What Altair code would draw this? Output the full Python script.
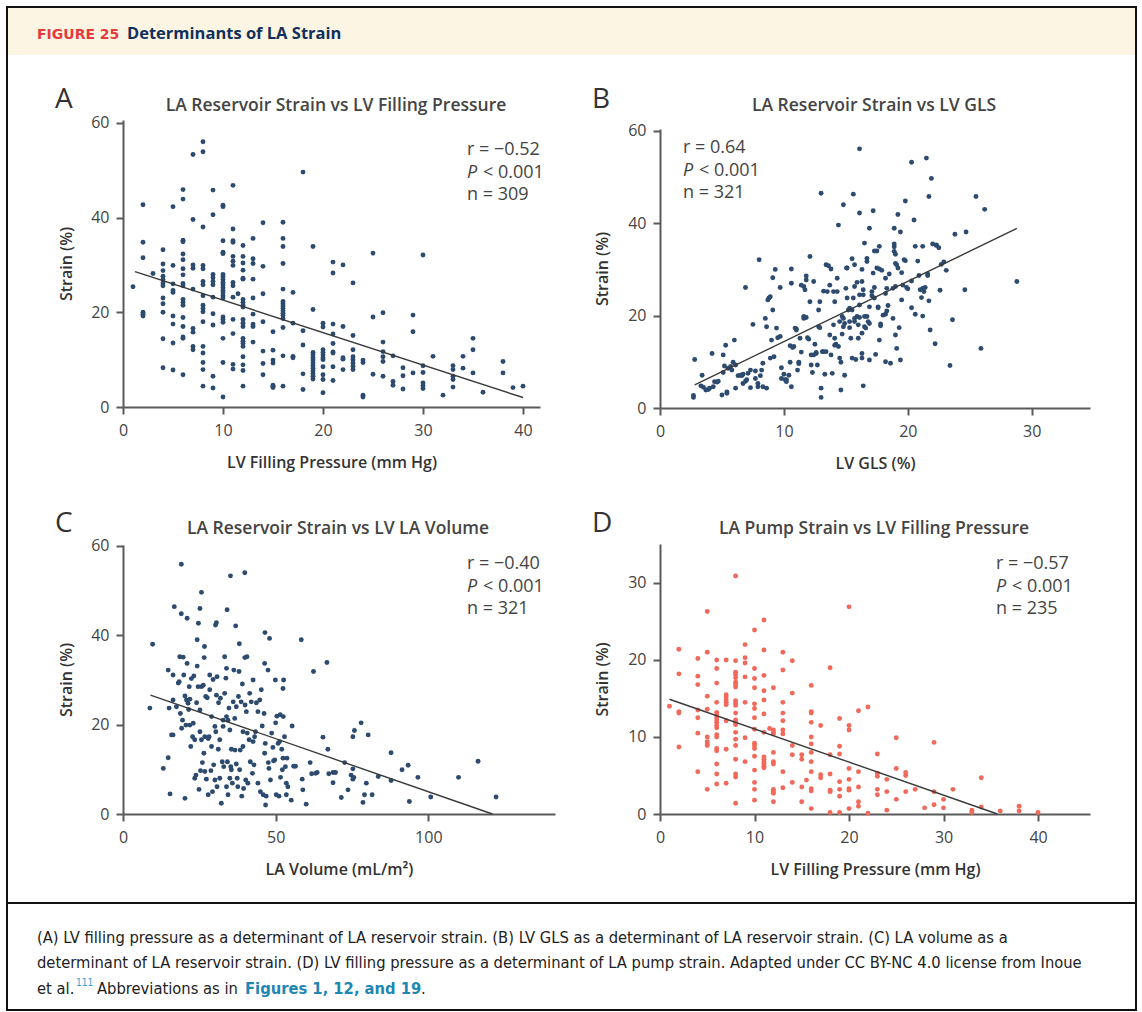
import altair as alt
import pandas as pd

W, H = 1142, 1012
FONT = "Open Sans"
NAVY = "#2d4b6e"
SALMON = "#f1695b"
AXIS_GRAY = "#5a5a5a"
TEXT_GRAY = "#444444"
CREAM = "#fdf5e3"

# ---------------- data ----------------
# Panel A: LV filling pressure (mm Hg) -> LA reservoir strain (%)
a_cols = {
    1: [25.4],
    2: [42.7, 34.8, 31.5, 20.0, 19.6, 19.2],
    3: [28.2],
    4: [33.2, 30.2, 28.8, 27.6, 26.9, 26.2, 25.6, 23.0, 21.8, 20.0, 14.4, 8.3],
    5: [42.3, 29.9, 26.0, 24.6, 24.2, 19.2, 17.5, 13.5, 7.8],
    6: [45.9, 43.9, 35.2, 34.9, 32.3, 31.1, 29.2, 27.9, 26.1, 25.6, 22.7, 22.1, 21.5, 18.9, 17.0, 14.8, 14.5, 6.8],
    7: [53.3, 39.6, 30.0, 29.3, 24.9, 16.6, 15.8, 12.8, 12.1],
    8: [56.0, 53.9, 38.0, 29.9, 29.2, 26.5, 25.8, 23.5, 21.5, 20.8, 20.1, 18.0, 12.8, 11.4, 9.4, 7.9, 4.4],
    9: [45.8, 40.6, 28.0, 27.3, 26.5, 25.8, 23.2, 19.7, 17.3, 6.5, 4.0],
    10: [42.6, 42.3, 35.1, 32.7, 32.4, 28.0, 27.5, 26.9, 26.3, 25.8, 25.2, 24.6, 24.1, 23.5, 23.0, 19.0, 18.5, 17.9, 14.5, 9.4, 2.1],
    11: [46.8, 37.6, 35.1, 34.8, 31.8, 30.8, 29.9, 26.3, 25.6, 23.2, 18.5, 15.5, 9.0, 8.0],
    11.5: [23.9],
    12: [34.1, 31.8, 30.4, 28.9, 27.2, 27.0, 22.7, 22.1, 21.5, 21.1, 18.5, 17.7, 17.0, 14.5, 13.9, 13.4, 12.8, 10.6, 8.9, 7.7, 4.4],
    13: [35.6, 31.3, 30.3, 27.0, 23.0, 19.6, 17.5, 17.0, 13.7],
    14: [38.9, 29.7, 23.9, 18.0, 11.8, 9.2, 6.8],
    15: [15.9, 12.0, 9.9, 9.3, 4.6, 4.4, 4.1],
    16: [39.0, 35.6, 33.9, 30.3, 24.9, 22.3, 21.8, 21.3, 20.8, 20.3, 19.8, 19.3, 18.7, 16.8, 10.8, 4.4],
    17: [24.2, 17.7, 10.7, 10.4],
    18: [49.6, 16.1, 13.1, 7.0, 3.7],
    19: [33.9, 20.6, 11.5, 11.0, 10.4, 9.9, 9.3, 8.7, 8.2, 7.6, 7.0, 6.5, 5.9],
    20: [17.7, 16.9, 12.1, 11.5, 11.0, 10.4, 10.0, 8.5, 6.8, 5.8, 3.0],
    21: [30.6, 28.3, 17.5, 15.4, 13.4, 11.6, 11.4, 8.5, 5.6],
    22: [30.0, 17.0, 10.4, 10.1, 7.9],
    23: [26.2, 15.1, 12.1, 10.6, 10.0, 9.3, 8.6, 7.9],
    24: [9.9, 9.4, 2.5, 2.1],
    25: [32.5, 19.0, 6.9],
    26: [19.9, 13.7, 11.7, 10.6, 9.6, 6.5],
    27: [10.8, 5.4, 4.6],
    28: [8.3, 6.6, 3.8],
    29: [19.4, 15.9, 7.2],
    30: [32.1, 8.7, 7.3, 5.1, 4.5, 3.9],
    31: [10.7],
    32: [2.5],
    33: [8.7, 7.9, 6.5, 5.8, 4.2],
    34: [10.7, 8.2],
    35: [14.5, 12.1, 7.2],
    36: [3.1],
    38: [9.6, 7.2],
    39: [4.1],
    40: [4.4],
}
a_fit_x = [1.2, 40.0]
a_fit_y = [28.6, 2.0]

# Panel B: LV GLS (%) -> LA reservoir strain (%)
b_pts = [
    (2.7, 2.7), (2.7, 2.3), (2.8, 10.5), (3.4, 7.1), (3.3, 4.8), (3.5, 4.5), (3.7, 3.9), (3.9, 4.0),
    (4.0, 4.3), (4.2, 11.8), (4.3, 4.6), (4.4, 5.7), (4.6, 5.6), (4.7, 5.8), (5.0, 2.8), (5.1, 11.5),
    (5.2, 9.1), (5.3, 13.6), (5.1, 7.7), (5.4, 3.5), (5.4, 3.2), (5.5, 8.6), (5.7, 9.0), (5.8, 8.2),
    (5.9, 9.9), (6.0, 14.7), (6.1, 9.3), (6.1, 4.3), (6.3, 7.0), (6.5, 7.1), (6.6, 7.0), (6.7, 7.3),
    (6.7, 5.3), (6.9, 5.8), (6.9, 26.1), (7.0, 6.1), (7.1, 7.5), (7.3, 8.2), (7.3, 4.4), (7.5, 18.1),
    (7.7, 6.4), (7.7, 8.0), (7.9, 5.3), (7.9, 4.6), (8.0, 32.1), (8.1, 7.0), (8.2, 8.2), (8.3, 9.7),
    (8.3, 4.6), (8.5, 19.4), (8.6, 17.6), (8.6, 4.3), (8.7, 23.4), (8.8, 23.8), (8.9, 24.1), (8.9, 10.8),
    (9.0, 14.7), (9.1, 21.2), (9.1, 28.2), (9.2, 11.1), (9.3, 30.0), (9.4, 17.3), (9.5, 15.2), (9.7, 15.5),
    (9.7, 26.1), (9.8, 8.7), (9.8, 6.4), (10.0, 7.3), (10.1, 6.1), (10.2, 6.1), (10.2, 5.7), (10.4, 7.1),
    (10.5, 9.9), (10.5, 13.5), (10.6, 30.1), (10.6, 27.0), (10.6, 4.6), (10.7, 13.1), (10.8, 13.3),
    (10.9, 17.3), (11.0, 17.1), (11.0, 16.9), (11.1, 8.2), (11.2, 9.6), (11.2, 9.9), (11.3, 15.1),
    (11.4, 26.6), (11.4, 12.1), (11.6, 19.4), (11.6, 26.3), (11.6, 19.8), (11.7, 25.6), (11.8, 19.6),
    (11.8, 28.6), (11.8, 27.7), (11.9, 15.2), (12.0, 14.9), (12.1, 32.8), (12.1, 23.0), (12.2, 11.5),
    (12.2, 9.3), (12.3, 7.7), (12.4, 27.4), (12.4, 11.5), (12.5, 13.8), (12.6, 11.8), (12.6, 12.0),
    (12.7, 9.3), (12.8, 17.6), (12.8, 21.2), (12.9, 17.4), (12.9, 23.0), (13.0, 46.5), (13.0, 4.3),
    (13.0, 2.3), (13.1, 12.2), (13.2, 12.2), (13.2, 25.3), (13.3, 7.3), (13.4, 31.0), (13.4, 12.2),
    (13.5, 25.2), (13.6, 30.8), (13.7, 15.8), (13.7, 26.6), (13.8, 30.1), (13.8, 11.5), (13.9, 7.5),
    (14.0, 18.0), (14.0, 25.2), (14.1, 23.0), (14.1, 15.1), (14.1, 13.6), (14.2, 13.8), (14.3, 28.1),
    (14.3, 25.2), (14.4, 39.6), (14.4, 13.3), (14.5, 18.7), (14.5, 10.8), (14.6, 9.9), (14.6, 3.9),
    (14.7, 19.8), (14.7, 16.0), (14.8, 44.0), (14.8, 19.4), (14.8, 17.6), (14.9, 18.3), (14.9, 7.1),
    (15.0, 25.9), (15.05, 30.3), (15.1, 23.8), (15.1, 30.3), (15.2, 21.2), (15.3, 17.4), (15.3, 21.6),
    (15.3, 18.7), (15.4, 15.1), (15.5, 32.3), (15.5, 21.2), (15.5, 10.8), (15.6, 46.3), (15.6, 23.8),
    (15.7, 18.7), (15.7, 26.3), (15.7, 19.4), (15.7, 31.0), (15.8, 10.5), (15.9, 27.2), (15.9, 19.8),
    (16.0, 18.0), (16.0, 15.1), (16.1, 24.5),
    (16.1, 56.1), (16.1, 42.2), (16.3, 30.0), (16.3, 27.4), (16.1, 22.3), (16.1, 19.6), (16.3, 16.2),
    (16.3, 11.8), (16.3, 10.8), (16.4, 4.8), (16.4, 25.6), (16.4, 24.5), (16.5, 35.7), (16.5, 19.8),
    (16.5, 17.6), (16.6, 17.3), (16.7, 19.8), (16.7, 32.4), (16.7, 31.7), (16.8, 18.7), (16.9, 18.3),
    (16.9, 38.9), (16.9, 21.9), (16.9, 10.4), (17.1, 25.2), (17.1, 24.3), (17.2, 42.7), (17.2, 29.2),
    (17.3, 26.1), (17.3, 23.8), (17.3, 34.0), (17.4, 11.6), (17.5, 34.0), (17.5, 30.3), (17.6, 21.9),
    (17.6, 21.7), (17.7, 14.7), (17.7, 35.0), (17.7, 30.1), (17.8, 18.2), (17.8, 17.8), (17.9, 29.8),
    (18.0, 20.1), (18.2, 28.1), (18.2, 20.3), (18.2, 24.8), (18.2, 10.0), (18.3, 25.9), (18.3, 21.0),
    (18.4, 22.2), (18.5, 29.0), (18.6, 9.7), (18.8, 19.4), (18.8, 25.9), (18.9, 33.9), (18.9, 38.9),
    (18.9, 35.5), (18.9, 34.9), (19.0, 15.8), (19.0, 33.3), (19.0, 26.3), (19.0, 31.3), (19.1, 12.9),
    (19.1, 31.0), (19.2, 30.3), (19.2, 41.9), (19.3, 17.4), (19.4, 38.1), (19.4, 10.4), (19.5, 23.4),
    (19.5, 29.3), (19.6, 26.6), (19.7, 32.1), (19.8, 44.8), (19.8, 31.9), (19.9, 26.1), (20.0, 25.8),
    (20.3, 27.5), (20.3, 21.7), (20.3, 53.2), (20.5, 40.7), (20.6, 20.3), (20.6, 35.0), (20.8, 31.8),
    (20.9, 28.7), (21.0, 25.6), (21.1, 23.9), (21.2, 19.9), (21.2, 35.0), (21.2, 25.9), (21.3, 25.2),
    (21.4, 26.1), (21.5, 54.1), (21.6, 29.0), (21.6, 28.7), (21.7, 23.2), (21.7, 45.8), (21.8, 16.9),
    (21.9, 49.7), (22.0, 35.5), (22.2, 13.9), (22.3, 35.3), (22.3, 35.2), (22.5, 34.7), (22.6, 25.5),
    (22.7, 31.1), (22.9, 31.6), (23.1, 29.8), (23.4, 9.2), (23.6, 19.1), (23.8, 37.6), (24.6, 25.6),
    (24.7, 38.1), (25.5, 45.8), (25.9, 12.9), (26.2, 43.0), (28.8, 27.4),
]
b_fit_x = [2.8, 28.8]
b_fit_y = [5.0, 38.9]

# Panel C: LA volume (mL/m2) -> LA reservoir strain (%)
c_pts = [
    (8.8, 23.7), (9.7, 38.0), (13.2, 10.2), (14.8, 12.6), (14.8, 32.2), (15.1, 23.7), (15.4, 4.5),
    (15.9, 17.7), (16.4, 25.5), (16.4, 17.7), (16.4, 31.1), (16.8, 46.4), (17.5, 24.0), (18.1, 29.3),
    (18.4, 29.6), (18.6, 35.2), (18.8, 22.5), (19.1, 55.9), (19.1, 44.8), (19.2, 19.2), (19.5, 21.0),
    (19.7, 35.1), (19.9, 31.1), (20.3, 26.4), (20.3, 3.5), (20.6, 19.9), (20.8, 25.5), (21.0, 33.7),
    (21.0, 43.8), (21.3, 24.8), (21.5, 23.4), (21.7, 28.5), (21.9, 25.7), (21.9, 19.9), (22.2, 15.1),
    (22.4, 30.3), (22.8, 17.3), (23.0, 20.3), (23.2, 30.9), (23.5, 16.6), (23.5, 8.0), (23.9, 8.7),
    (24.1, 24.9), (24.3, 39.0), (24.3, 33.1), (24.6, 28.5), (24.7, 42.7), (24.9, 5.5), (25.2, 18.4),
    (25.2, 46.0), (25.2, 23.3), (25.4, 9.7), (25.7, 16.6), (25.7, 49.6), (25.7, 28.5), (26.0, 11.5),
    (26.3, 28.8), (26.5, 13.6), (26.6, 35.0), (26.7, 37.5), (26.8, 9.5), (26.8, 17.3), (27.1, 26.3),
    (27.3, 7.8), (27.6, 26.0), (27.9, 4.3), (27.9, 16.9), (28.2, 17.3), (28.4, 31.1), (28.4, 27.8),
    (28.8, 9.7), (29.0, 21.8), (29.0, 15.1), (29.3, 5.0), (29.5, 30.1), (29.7, 11.0), (30.1, 19.6),
    (30.1, 7.6), (30.3, 42.3), (30.4, 18.4), (30.6, 42.8), (30.6, 26.6), (30.8, 6.1), (30.8, 30.7),
    (31.2, 14.5), (31.3, 24.9), (31.7, 8.0), (31.7, 16.6), (31.9, 25.9), (32.2, 2.4), (32.5, 11.7),
    (32.8, 19.6), (32.8, 21.0), (33.0, 10.6), (33.3, 35.2), (33.3, 27.0), (33.7, 30.4), (33.9, 6.1),
    (33.9, 32.6), (33.9, 21.8), (34.1, 45.7), (34.2, 11.7), (34.4, 21.0), (34.4, 4.3), (34.7, 23.7),
    (35.0, 18.8), (35.0, 8.0), (35.2, 53.3), (35.3, 10.6), (35.5, 9.9), (35.5, 14.5), (35.8, 6.9),
    (36.1, 25.1), (36.3, 32.2), (36.6, 21.4), (36.7, 14.3), (36.9, 42.1), (37.1, 11.2), (37.1, 24.0),
    (37.4, 8.0), (37.6, 6.1), (37.8, 26.3), (38.0, 31.9), (38.1, 38.1), (38.2, 9.9), (38.4, 14.3),
    (38.7, 25.1), (38.9, 4.0), (39.1, 29.1), (39.3, 15.1), (39.3, 18.4), (39.5, 5.7), (39.9, 35.0),
    (39.9, 54.0), (40.0, 24.4), (40.2, 7.6), (40.4, 22.9), (40.6, 35.2), (40.7, 18.1), (40.9, 6.9),
    (41.3, 16.6), (41.5, 27.0), (41.7, 11.7), (42.0, 25.1), (42.4, 9.1), (42.6, 30.0), (42.6, 16.2),
    (42.9, 11.0), (43.1, 17.3), (43.4, 18.4), (43.7, 24.9), (44.2, 6.9), (44.2, 22.9), (44.8, 25.5),
    (45.0, 5.0), (45.3, 27.8), (45.6, 19.7), (45.9, 4.3), (46.2, 22.5), (46.4, 33.7), (46.4, 13.6),
    (46.5, 40.6), (46.6, 15.8), (46.7, 2.0), (46.9, 4.0), (47.5, 32.2), (47.6, 11.5), (47.8, 10.2),
    (48.0, 39.3), (48.3, 7.6), (48.7, 18.1), (49.1, 14.9), (49.3, 11.9), (49.7, 12.1), (49.9, 30.0),
    (50.0, 20.4), (50.2, 4.3), (50.4, 21.9), (50.8, 15.8), (51.1, 4.0), (51.3, 16.2), (51.5, 22.2),
    (51.6, 8.2), (52.0, 14.5), (52.2, 9.9), (52.4, 28.1), (52.4, 12.5), (52.5, 21.8), (52.6, 30.0),
    (52.9, 17.3), (53.2, 10.6), (53.5, 6.9), (53.5, 4.3), (53.7, 12.5), (54.0, 6.1), (55.1, 3.1),
    (55.4, 19.7), (55.9, 10.7), (56.5, 10.7), (58.4, 39.0), (58.7, 7.8), (58.9, 5.4), (60.0, 2.2),
    (61.3, 11.5), (61.8, 9.0), (62.4, 31.9), (63.1, 9.1), (63.6, 9.3), (65.5, 17.2), (66.8, 33.9),
    (67.1, 14.5), (67.4, 9.0), (68.8, 9.3), (69.6, 9.3), (68.8, 7.0), (71.5, 3.7), (72.6, 11.5),
    (73.7, 5.4), (74.7, 8.7), (75.3, 17.3), (75.3, 10.1), (75.3, 7.8), (75.6, 8.2), (75.8, 18.7),
    (78.0, 20.4), (78.6, 2.6), (79.1, 4.3), (79.7, 6.9), (80.3, 17.7), (81.6, 4.3), (83.6, 8.4),
    (87.8, 13.7), (87.8, 7.5), (91.4, 9.9), (93.4, 10.9), (93.8, 2.8), (96.6, 8.2), (100.8, 3.8),
    (109.9, 8.2), (116.3, 11.8), (122.2, 3.8),
]
c_fit_x = [9.0, 121.0]
c_fit_y = [26.6, 0.0]

# Panel D: LV filling pressure (mm Hg) -> LA pump strain (%)
d_cols = {
    1: [14.0],
    2: [21.4, 18.2, 13.3, 13.1, 8.7],
    4: [20.2, 17.9, 16.8, 13.5, 12.5, 10.5, 5.5],
    5: [26.3, 21.0, 15.3, 13.6, 10.0, 9.4, 9.1, 8.9, 3.2],
    6: [20.0, 18.9, 17.0, 14.5, 13.2, 12.9, 12.6, 12.2, 11.9, 11.5, 11.2, 10.3, 10.0, 8.5, 8.2, 6.5, 5.2, 3.9],
    7: [20.0, 15.5, 15.2, 14.8, 14.5, 14.2, 12.1, 8.4, 4.0],
    8: [30.9, 19.9, 18.4, 18.1, 17.7, 17.1, 16.8, 16.5, 14.7, 14.4, 14.1, 13.1, 12.2, 11.9, 11.6, 10.6, 9.7, 8.9, 7.1, 5.2, 4.8, 1.4],
    9: [22.0, 20.3, 19.6, 17.8, 14.5, 9.9, 6.8],
    10: [23.9, 18.9, 17.6, 16.4, 14.3, 13.7, 12.5, 11.0, 9.2, 8.9, 8.5, 7.5, 5.7, 4.1, 3.2, 1.8],
    11: [25.2, 21.3, 18.0, 16.0, 14.8, 13.0, 10.6, 7.4, 7.1, 6.8, 6.5, 6.2, 6.0],
    11.6: [11.1],
    12: [16.4, 10.9, 10.6, 10.4, 8.0, 6.8, 6.5, 3.2, 2.9, 2.7, 1.6],
    13: [21.0, 18.7, 14.5, 13.1, 12.1, 10.9, 10.4, 5.5, 3.4],
    14: [19.9, 15.7, 8.9, 7.7, 4.1],
    15: [7.7, 7.1, 3.5, 1.6],
    15.5: [4.4],
    16: [16.7, 13.3, 13.1, 11.9, 10.0, 9.1, 8.0, 6.8, 5.5, 3.3, 3.0, 0.7],
    17: [11.5, 5.1, 4.7],
    18: [19.0, 7.7, 5.2, 3.1, 2.9, 0.2],
    19: [12.4, 8.8, 7.8, 4.2, 3.2, 2.3, 0.2],
    20: [26.9, 11.5, 10.9, 5.9, 4.5, 3.3, 3.1, 0.7],
    21: [13.4, 5.5, 3.5, 1.6, 1.0],
    22: [13.9, 0.1],
    23: [7.8, 5.3, 4.9, 3.2, 2.5],
    24: [4.5, 2.9, 0.5],
    25: [9.9, 5.9, 1.9],
    26: [5.4, 5.0, 2.9],
    27: [3.2],
    28: [0.8],
    29: [9.3, 2.9, 1.2],
    30: [1.9, 0.8],
    31: [3.2],
    33: [0.5, 0.2],
    34: [4.7, 0.9],
    36: [0.4],
    38: [1.0, 0.4],
    40: [0.2],
}
d_fit_x = [1.0, 35.7]
d_fit_y = [14.9, 0.0]

stats_a = ["r = \u22120.52", "< 0.001", "n = 309"]
stats_b = ["r = 0.64", "< 0.001", "n = 321"]
stats_c = ["r = \u22120.40", "< 0.001", "n = 321"]
stats_d = ["r = \u22120.57", "< 0.001", "n = 235"]

caption_1 = ("(A) LV filling pressure as a determinant of LA reservoir strain. (B) LV GLS as a "
             "determinant of LA reservoir strain. (C) LA volume as a")
caption_2 = ("determinant of LA reservoir strain. (D) LV filling pressure as a determinant of LA "
             "pump strain. Adapted under CC BY-NC 4.0 license from Inoue")


def cols_df(cols):
    return pd.DataFrame([(x, y) for x, ys in cols.items() for y in ys], columns=["x", "y"])


def pts_df(pts):
    return pd.DataFrame(pts, columns=["x", "y"])


DUMMY = pd.DataFrame({"k": [0]})


def label(text, x, y, size, color=TEXT_GRAY, weight="normal", style="normal",
          align="left", font=FONT, baseline="alphabetic", angle=0):
    return alt.Chart(DUMMY).mark_text(
        text=text, fontSize=size, color=color, fontWeight=weight, fontStyle=style,
        align=align, baseline=baseline, font=font, angle=angle,
    ).encode(x=alt.value(x), y=alt.value(y))


def panel(df, fx, fy, color, xdom, xrng, ydom, yrng, xticks, yticks, xtitle, ytitle_x):
    xs = alt.Scale(domain=xdom, range=xrng, nice=False, zero=False)
    ys = alt.Scale(domain=ydom, range=yrng, nice=False, zero=False)
    common = dict(
        domainColor=AXIS_GRAY, domainWidth=2, tickColor=AXIS_GRAY, tickWidth=2, tickSize=7,
        grid=False, labelFont=FONT, labelFontSize=16, labelColor=TEXT_GRAY, labelFlush=False,
        labelOverlap=False, titleFont=FONT, titleFontSize=16, titleFontWeight=600,
        titleColor="#333333",
    )
    xaxis = alt.Axis(orient="bottom", offset=yrng[0] - H, values=xticks, title=xtitle,
                     labelPadding=8, titleY=60, titleBaseline="alphabetic", **common)
    yaxis = alt.Axis(orient="left", offset=-xrng[0], values=yticks, title="Strain (%)",
                     labelPadding=7, titleX=ytitle_x - xrng[0], titleBaseline="middle", **common)
    pts = alt.Chart(df).mark_circle(size=24, color=color, opacity=1).encode(
        x=alt.X("x:Q", scale=xs, axis=xaxis),
        y=alt.Y("y:Q", scale=ys, axis=yaxis),
    )
    fit = alt.Chart(pd.DataFrame({"x": fx, "y": fy})).mark_line(
        color="#3a3a3a", strokeWidth=1.4
    ).encode(
        x=alt.X("x:Q", scale=xs, axis=None),
        y=alt.Y("y:Q", scale=ys, axis=None),
    )
    return [pts, fit]


def stats(lines, x, y0):
    out = [label(lines[0], x, y0, 18)]
    out.append(label("P", x, y0 + 22.5, 18, style="italic"))
    out.append(label(lines[1], x + 16, y0 + 22.5, 18))
    out.append(label(lines[2], x, y0 + 45, 18))
    return out


layers = []
# frame
layers.append(alt.Chart(DUMMY).mark_rect(color=CREAM).encode(
    x=alt.value(8), x2=alt.value(1135), y=alt.value(8), y2=alt.value(55)))
layers.append(alt.Chart(DUMMY).mark_rect(fillOpacity=0, stroke="#111111", strokeWidth=2).encode(
    x=alt.value(7), x2=alt.value(1136), y=alt.value(7), y2=alt.value(1010)))
layers.append(alt.Chart(DUMMY).mark_rule(color="#111111", strokeWidth=2).encode(
    x=alt.value(7), x2=alt.value(1136), y=alt.value(903)))

# header
layers.append(label("FIGURE 25", 37, 39, 14, color="#e63a3f", weight="bold", font="DejaVu Sans"))
layers.append(label("Determinants of LA Strain", 127, 39, 16.5, color="#11305c", weight="bold"))

# panels
layers += panel(cols_df(a_cols), a_fit_x, a_fit_y, NAVY, [0, 41.7], [123, 540], [0, 60.6], [407, 120],
                [0, 10, 20, 30, 40], [0, 20, 40, 60], "LV Filling Pressure (mm Hg)", 66)
layers += panel(pts_df(b_pts), b_fit_x, b_fit_y, NAVY, [0, 34.7], [660, 1090], [0, 60.4], [408, 129],
                [0, 10, 20, 30], [0, 20, 40, 60], "LV GLS (%)", 602)
layers += panel(pts_df(c_pts), c_fit_x, c_fit_y, NAVY, [0, 141.5], [123, 555], [0, 60.2], [814, 545],
                [0, 50, 100], [0, 20, 40, 60], "LA Volume (mL/m\u00b2)", 66)
layers += panel(cols_df(d_cols), d_fit_x, d_fit_y, SALMON, [0, 45.5], [660, 1090], [0, 35.06], [814, 544],
                [0, 10, 20, 30, 40], [0, 10, 20, 30], "LV Filling Pressure (mm Hg)", 602)

# panel letters and titles
for letter, x, y in [("A", 55, 108), ("B", 592, 108), ("C", 55, 532), ("D", 592, 532)]:
    layers.append(label(letter, x, y, 28, color="#333333"))
for title, cx, y in [("LA Reservoir Strain vs LV Filling Pressure", 336, 111),
                     ("LA Reservoir Strain vs LV GLS", 874, 111),
                     ("LA Reservoir Strain vs LV LA Volume", 338, 534),
                     ("LA Pump Strain vs LV Filling Pressure", 874, 534)]:
    layers.append(label(title, cx, y, 17.5, color=TEXT_GRAY, weight=600, align="center"))

layers += stats(stats_a, 467, 155)
layers += stats(stats_b, 683, 153)
layers += stats(stats_c, 467, 569)
layers += stats(stats_d, 996, 569)

# caption
CAP_FONT = "DejaVu Sans Condensed, Roboto"
CAP_SIZE = 16.4
layers.append(label(caption_1, 37, 943, CAP_SIZE, color="#222222", font=CAP_FONT))
layers.append(label(caption_2, 37, 968, CAP_SIZE, color="#222222", font=CAP_FONT))
layers.append(label("et al.", 37, 994, CAP_SIZE, color="#222222", font=CAP_FONT))
layers.append(label("111", 76, 986, 10, color="#3a9fd0", font=CAP_FONT))
layers.append(label("Abbreviations as in", 97, 994, CAP_SIZE, color="#222222", font=CAP_FONT))
layers.append(label("Figures 1, 12, and 19", 245, 994, CAP_SIZE, color="#1f87b4", weight="bold", font=CAP_FONT))
layers.append(label(".", 421, 994, CAP_SIZE, color="#222222", font=CAP_FONT))

chart = alt.layer(*layers).resolve_scale(
    x="independent", y="independent"
).resolve_axis(
    x="independent", y="independent"
).properties(
    width=W, height=H, autosize=alt.AutoSizeParams(type="none"), padding=0,
    background="white",
).configure_view(stroke=None)

chart.save("out.html", embed_options={"renderer": "svg", "actions": False})
